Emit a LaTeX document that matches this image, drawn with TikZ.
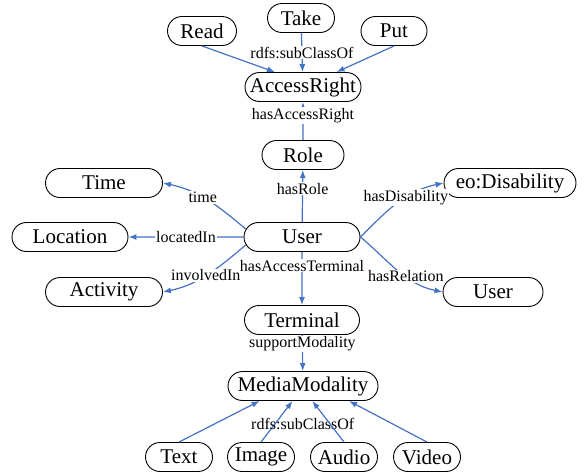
\documentclass[tikz,border=0pt]{standalone}
\usepackage{fontspec}
\setmainfont{Liberation Serif}
\usetikzlibrary{shapes.misc,arrows.meta}

\begin{document}
\begin{tikzpicture}[x=1pt,y=-1pt,>={Latex[length=8pt,width=6pt]},
	concept/.style={shape=rounded rectangle,draw=black,line width=0.9pt,minimum height=29pt,inner sep=0pt,font=\fontsize{21}{24}\selectfont},
	rel/.style={draw={rgb,255:red,68;green,114;blue,196},line width=1.2pt},
	lbl/.style={fill=white,inner sep=1pt,text=black,font=\fontsize{16}{18}\selectfont}]
	\useasboundingbox (0,0) rectangle (588,475);
	\node [concept,minimum width=69pt] (Read) at (202,31) {Read};
	\node [concept,minimum width=67pt] (Take) at (301,18) {Take};
	\node [concept,minimum width=66pt] (Put) at (394,31) {Put};
	\node [concept,minimum width=116pt] (AccessRight) at (303,87) {AccessRight};
	\node [concept,minimum width=82pt] (Role) at (303,155) {Role};
	\node [concept,minimum width=117pt] (Time) at (104,183) {Time};
	\node [concept,minimum width=132pt] (Disability) at (510,183) {eo:Disability};
	\node [concept,minimum width=116pt] (Location) at (70,237) {Location};
	\node [concept,minimum width=116pt] (User) at (302,237) {User};
	\node [concept,minimum width=117pt] (Activity) at (104,292) {Activity};
	\node [concept,minimum width=100pt] (OtherUser) at (493,292) {User};
	\node [concept,minimum width=115pt] (Terminal) at (302,320) {Terminal};
	\node [concept,minimum width=150pt] (Modality) at (303,386) {MediaModality};
	\node [concept,minimum width=67pt] (Text) at (179,457) {Text};
	\node [concept,minimum width=67pt] (Image) at (261,457) {Image};
	\node [concept,minimum width=67pt] (Audio) at (344,457) {Audio};
	\node [concept,minimum width=67pt] (Video) at (427,457) {Video};
	
	\path [->] (Read.south) edge [rel] node {} (AccessRight.152);
	\path [->] (Take) edge [rel] node [lbl] {rdfs:subClassOf} (AccessRight);
	\path [->] (Put.south) edge [rel] node {} (AccessRight.24);
	\path [->] (Role) edge [rel] node [lbl,pos=0.65] {hasAccessRight} (AccessRight);
	\path [->] (User) edge [rel] node [lbl,pos=0.64] {hasRole} (Role);
	\path [->] (User.172) edge [rel,out=140,in=-12] node [lbl,pos=0.56] {time} (Time.east);
	\path [->] (User) edge [rel] node [lbl] {locatedIn} (Location);
	\path [->] (User.188) edge [rel,out=220,in=12] node [lbl,pos=0.52] {involvedIn} (Activity.east);
	\path [->] (User.east) edge [rel,out=45,in=192] node [lbl,pos=0.6] {hasDisability} (Disability.west);
	\path [->] (User.east) edge [rel,out=-40,in=168] node [lbl,pos=0.6] {hasRelation} (OtherUser.west);
	\path [->] (User) edge [rel] node [lbl,pos=0.26] {hasAccessTerminal} (Terminal);
	\path [->] (Terminal) edge [rel] node [lbl,pos=0.25] {supportModality} (Modality);
	\path [->] (Text.north) edge [rel] node {} (Modality.199);
	\path [->] (Image.north) edge [rel] node [lbl,fill=none,xshift=26pt,yshift=-2pt] {rdfs:subClassOf} (Modality.235);
	\path [->] (Audio.north) edge [rel] node {} (Modality.302);
	\path [->] (Video.north) edge [rel] node {} (Modality.342);
\end{tikzpicture}
\end{document}
